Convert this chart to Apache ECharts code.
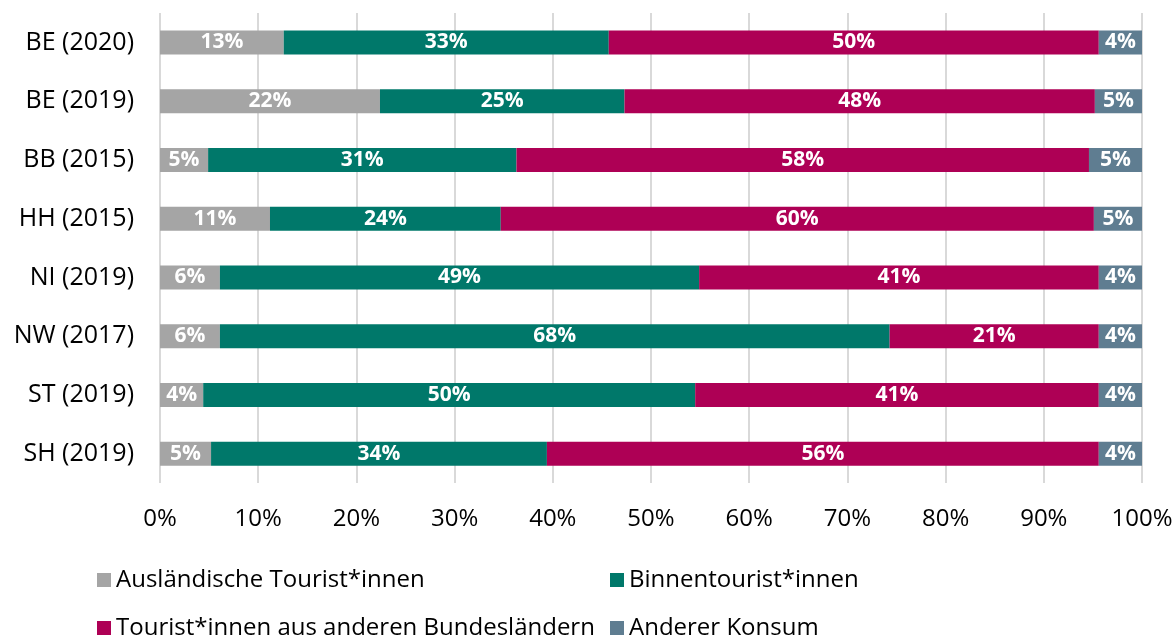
<!DOCTYPE html>
<html>
<head>
<meta charset="utf-8">
<script src="https://cdn.jsdelivr.net/npm/echarts@6/dist/echarts.min.js"></script>
<style>
  html, body { margin: 0; padding: 0; background: #fff; }
  #chart { width: 1176px; height: 637px; }
</style>
</head>
<body>
<div id="chart"></div>
<script>
const categories = ["BE (2020)", "BE (2019)", "BB (2015)", "HH (2015)", "NI (2019)", "NW (2017)", "ST (2019)", "SH (2019)"];
const auslaendisch = [12.6, 22.4, 4.9, 11.2, 6.1, 6.1, 4.4, 5.2];
const binnen = [33.1, 24.9, 31.4, 23.5, 48.8, 68.2, 50.1, 34.2];
const andereLaender = [49.9, 47.9, 58.3, 60.4, 40.7, 21.3, 41.1, 56.2];
const andererKonsum = [4.4, 4.8, 5.4, 4.9, 4.4, 4.4, 4.4, 4.4];
const seriesNames = ["Ausländische Tourist*innen", "Binnentourist*innen", "Tourist*innen aus anderen Bundesländern", "Anderer Konsum"];
const colors = ["#a5a5a5", "#00786a", "#ae0055", "#5f7d91"];

const font = "'Open Sans', 'Noto Sans', sans-serif";
const chart = echarts.init(document.getElementById("chart"));

const makeSeries = (name, data, color) => ({
  name: name,
  type: "bar",
  stack: "total",
  data: data,
  barWidth: 24,
  itemStyle: { color: color },
  label: {
    show: true,
    position: "inside",
    color: "#fff",
    fontWeight: "bold",
    fontSize: 21,
    fontFamily: font,
    formatter: p => Math.round(p.value) + "%"
  }
});

const legendBase = {
  orient: "horizontal",
  itemWidth: 14,
  itemHeight: 14,
  icon: "rect",
  itemGap: 8,
  textStyle: { fontSize: 24, fontFamily: font, color: "#000" },
  selectedMode: false
};

chart.setOption({
  animation: false,
  color: colors,
  grid: { left: 160, right: 34, top: 13, bottom: 154 },
  legend: [
    Object.assign({}, legendBase, { data: [seriesNames[0]], left: 92, top: 563 }),
    Object.assign({}, legendBase, { data: [seriesNames[1]], left: 605, top: 563 }),
    Object.assign({}, legendBase, { data: [seriesNames[2]], left: 92, top: 611 }),
    Object.assign({}, legendBase, { data: [seriesNames[3]], left: 605, top: 611 })
  ],
  xAxis: {
    type: "value",
    min: 0,
    max: 100,
    interval: 10,
    axisLine: { show: false },
    axisTick: { show: false },
    splitLine: { show: true, lineStyle: { color: "#d9d9d9", width: 2 } },
    axisLabel: {
      formatter: "{value}%",
      fontSize: 24,
      fontFamily: font,
      color: "#000",
      margin: 24
    }
  },
  yAxis: {
    type: "category",
    data: categories,
    inverse: true,
    axisLine: { show: false },
    axisTick: { show: false },
    axisLabel: {
      fontSize: 25,
      fontFamily: font,
      color: "#000",
      margin: 26
    }
  },
  series: [
    makeSeries(seriesNames[0], auslaendisch, colors[0]),
    makeSeries(seriesNames[1], binnen, colors[1]),
    makeSeries(seriesNames[2], andereLaender, colors[2]),
    makeSeries(seriesNames[3], andererKonsum, colors[3])
  ]
});
</script>
</body>
</html>
